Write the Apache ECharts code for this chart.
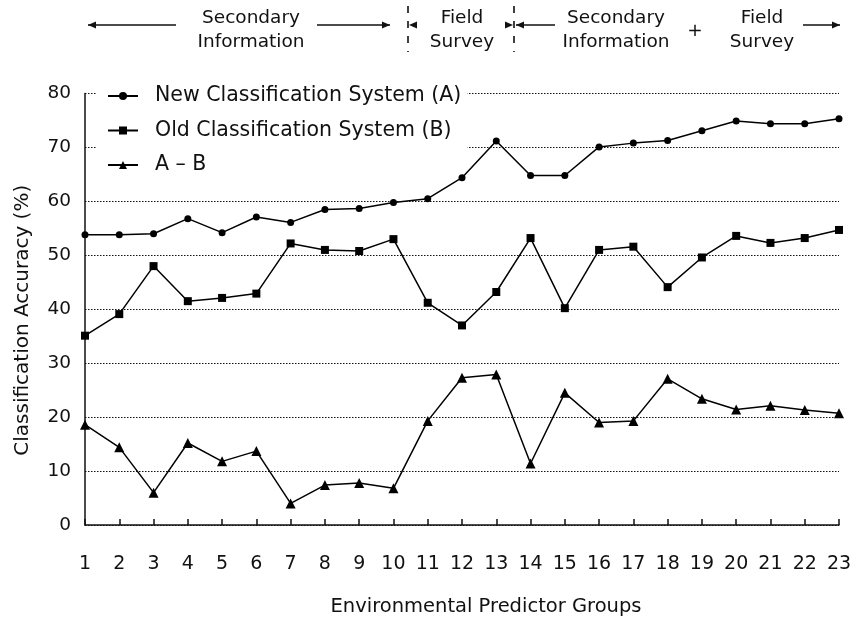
<!DOCTYPE html>
<html>
<head>
<meta charset="utf-8">
<script src="https://cdn.jsdelivr.net/npm/echarts@6/dist/echarts.min.js"></script>
<style>
  html, body { margin: 0; padding: 0; background: #fff; }
  #chart { width: 859px; height: 622px; }
</style>
</head>
<body>
<div id="chart"></div>
<script>
// predictor groups along the x axis
const groups = ['1','2','3','4','5','6','7','8','9','10','11','12','13','14','15','16','17','18','19','20','21','22','23'];

// classification accuracy (%)
const newSystem = [53.8, 53.8, 54.0, 56.8, 54.2, 57.1, 56.1, 58.5, 58.7, 59.8, 60.5, 64.4, 71.2, 64.8, 64.8, 70.1, 70.8, 71.3, 73.1, 74.9, 74.4, 74.4, 75.3];
const oldSystem = [35.1, 39.1, 48.0, 41.5, 42.1, 42.9, 52.2, 51.0, 50.8, 53.0, 41.2, 37.0, 43.2, 53.2, 40.2, 51.0, 51.6, 44.1, 49.6, 53.6, 52.3, 53.2, 54.7];
const difference = [18.6, 14.4, 6.0, 15.2, 11.8, 13.7, 4.0, 7.4, 7.8, 6.8, 19.3, 27.3, 27.9, 11.4, 24.5, 19.0, 19.3, 27.1, 23.4, 21.4, 22.1, 21.3, 20.7];

const seriesNames = ['New Classification System (A)', 'Old Classification System (B)', 'A – B'];

const FONT = 'DejaVu Sans';
const INK = '#111';

const chart = echarts.init(document.getElementById('chart'));

function line(x1, y1, x2, y2, dash) {
  return {
    type: 'line',
    shape: { x1: x1, y1: y1, x2: x2, y2: y2 },
    style: { stroke: INK, lineWidth: 1.6, lineDash: dash || null }
  };
}
// arrowhead, tip at (x, y), dir = 1 points right, -1 points left
function head(x, y, dir) {
  return {
    type: 'polygon',
    shape: { points: [[x, y], [x - dir * 8, y - 3.5], [x - dir * 8, y + 3.5]] },
    style: { fill: INK }
  };
}
function label(x, y, text) {
  return {
    type: 'text',
    x: x, y: y,
    style: {
      text: text, fill: INK, font: '18.5px "' + FONT + '"',
      align: 'center', verticalAlign: 'middle', lineHeight: 24
    }
  };
}

const header = [
  line(88, 25, 176, 25), head(88, 25, -1),
  label(251, 30, 'Secondary\nInformation'),
  line(317, 25, 390, 25), head(390, 25, 1),
  line(408, 6, 408, 52, [7, 8]),
  head(409, 25, -1),
  label(462, 30, 'Field\nSurvey'),
  line(514, 6, 514, 52, [7, 8]),
  head(513, 25, 1),
  line(516, 25, 555, 25), head(516, 25, -1),
  label(616, 30, 'Secondary\nInformation'),
  label(695, 31, '+'),
  label(762, 30, 'Field\nSurvey'),
  line(803, 25, 840, 25), head(840, 25, 1)
];

const symbols = ['circle', 'rect', 'triangle'];
const sizes = [7, 8, 10];
const values = [newSystem, oldSystem, difference];

chart.setOption({
  animation: false,
  backgroundColor: '#fff',
  textStyle: { fontFamily: FONT, color: INK },
  grid: { left: 85, right: 20, top: 93.5, bottom: 93.5 },
  legend: {
    orient: 'vertical',
    left: 97,
    top: 81,
    // above the dotted grid lines, below the series lines
    z: 1,
    backgroundColor: '#fff',
    padding: [4, 6, 6, 10],
    itemWidth: 30,
    itemHeight: 10,
    itemGap: 12.5,
    data: seriesNames,
    textStyle: { fontSize: 20.5, color: INK, fontFamily: FONT, padding: [0, 0, 0, 12], lineHeight: 22 }
  },
  xAxis: {
    type: 'category',
    data: groups,
    boundaryGap: false,
    name: 'Environmental Predictor Groups',
    nameLocation: 'middle',
    nameGap: 72,
    nameTextStyle: { fontSize: 19.5, color: INK, padding: [0, 0, 0, 48] },
    axisLine: { lineStyle: { color: INK, width: 1.5 } },
    axisTick: { inside: true, length: 6, alignWithLabel: true, lineStyle: { color: INK, width: 1.5 } },
    axisLabel: { fontSize: 19, color: INK, margin: 30 },
    splitLine: { show: false }
  },
  yAxis: {
    type: 'value',
    min: 0,
    max: 80,
    interval: 10,
    name: 'Classification Accuracy (%)',
    nameLocation: 'middle',
    nameGap: 52,
    nameTextStyle: { fontSize: 20, color: INK, padding: [0, 22, 0, 0] },
    axisLine: { show: true, lineStyle: { color: INK, width: 1.5 } },
    axisTick: { show: false },
    axisLabel: { fontSize: 18.5, color: INK, margin: 14 },
    splitLine: { lineStyle: { color: INK, width: 1, type: [1.5, 1.5] } }
  },
  series: seriesNames.map(function (name, i) {
    return {
      name: name,
      type: 'line',
      data: values[i],
      symbol: symbols[i],
      symbolSize: sizes[i],
      color: '#000',
      lineStyle: { color: '#000', width: 1.5 },
      itemStyle: { color: '#000' }
    };
  }),
  graphic: header
});
</script>
</body>
</html>
